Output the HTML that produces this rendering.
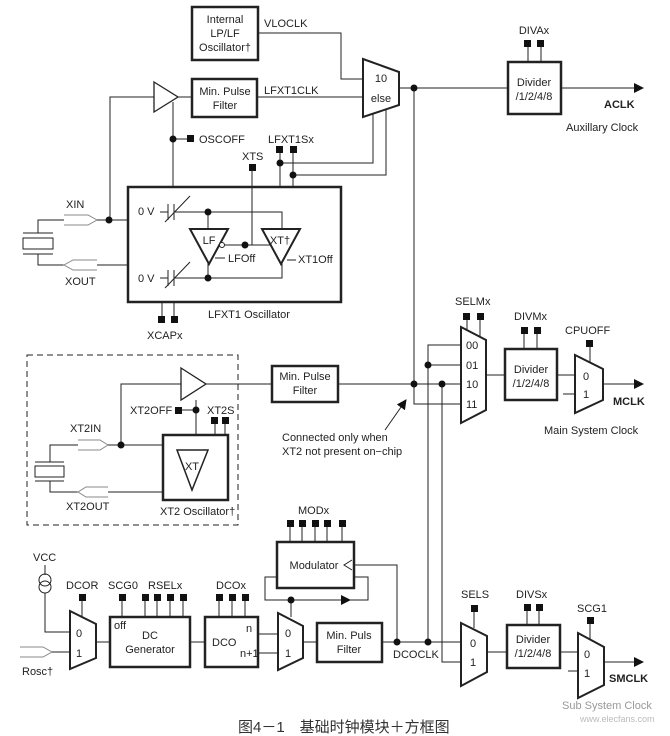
<!DOCTYPE html>
<html><head><meta charset="utf-8"><style>
html,body{margin:0;padding:0;background:#fff;}
svg{display:block;}
text{font-family:"Liberation Sans",Arial,sans-serif;font-size:11px;fill:#222;}
.b{font-weight:bold;}
</style></head><body>
<svg width="670" height="736" viewBox="0 0 670 736" xmlns="http://www.w3.org/2000/svg">
<defs>
<marker id="ar" markerWidth="10" markerHeight="10" refX="9" refY="5" orient="auto" markerUnits="userSpaceOnUse"><path d="M0,0 L10,5 L0,10 z" fill="#111"/></marker>
</defs>
<g stroke="#222" stroke-width="1" fill="none">
<rect x="192" y="7" width="66" height="53" stroke-width="2.5"/>
<polyline points="258,33 341,33 341,79 363,79"/>
<polygon points="363,59 399,72 399,105 363,117" stroke-width="2" fill="#fff"/>
<polygon points="154,82 178,97 154,112" stroke-width="1.3"/>
<polyline points="154,97 110,97 110,220"/>
<rect x="192" y="79" width="65" height="38" stroke-width="2.5"/>
<line x1="178" y1="97" x2="192" y2="97"/>
<line x1="257" y1="97" x2="363" y2="97"/>
<line x1="173" y1="102" x2="173" y2="187"/>
<line x1="173" y1="139" x2="190" y2="139"/>
<polyline points="280,150 280,187"/>
<polyline points="280,163 373,163 373,114"/>
<polyline points="293,150 293,187"/>
<polyline points="293,175 386,175 386,109"/>
<line x1="252" y1="167" x2="252" y2="245"/>
<rect x="128" y="187" width="213" height="115" stroke-width="2.5"/>
<line x1="162" y1="302" x2="162" y2="318"/><line x1="174" y1="302" x2="174" y2="318"/>
<line x1="160" y1="212" x2="168" y2="212"/><line x1="168" y1="204" x2="168" y2="220"/><line x1="174" y1="204" x2="174" y2="220"/>
<line x1="165" y1="222" x2="190" y2="196"/>
<polyline points="174,212 282,212 282,229"/>
<line x1="208" y1="212" x2="208" y2="229"/>
<line x1="160" y1="278" x2="168" y2="278"/><line x1="168" y1="270" x2="168" y2="286"/><line x1="174" y1="270" x2="174" y2="286"/>
<line x1="165" y1="288" x2="190" y2="262"/>
<polyline points="174,278 282,278 282,263"/>
<line x1="208" y1="278" x2="208" y2="263"/>
<polygon points="190,229 228,229 209,264" stroke-width="2"/>
<polygon points="262,229 300,229 281,264" stroke-width="2"/>
<circle cx="222" cy="245" r="2.5" fill="#fff"/>
<line x1="225" y1="245" x2="270" y2="245"/>
<line x1="215" y1="258" x2="225" y2="258"/>
<line x1="287" y1="260" x2="296" y2="260"/>
<polyline points="64,215 88,215 97,220 88,225 64,225 z" stroke="#888"/>
<polyline points="38,233 38,220 64,220"/>
<line x1="97" y1="220" x2="128" y2="220"/>
<rect x="23" y="238" width="30" height="11"/>
<line x1="23" y1="233" x2="53" y2="233"/><line x1="23" y1="254" x2="53" y2="254"/>
<polyline points="38,254 38,265 64,265"/>
<polyline points="97,260 73,260 64,265 73,270 97,270 z" stroke="#888"/>
<line x1="97" y1="265" x2="128" y2="265"/>
<line x1="399" y1="88" x2="508" y2="88"/>
<rect x="508" y="62" width="53" height="52" stroke-width="2.5"/>
<line x1="528" y1="43" x2="528" y2="62"/><line x1="541" y1="43" x2="541" y2="62"/>
<line x1="561" y1="88" x2="643" y2="88" marker-end="url(#ar)"/>
<polyline points="414,88 414,404 461,404"/>
<polyline points="461,345 428,345 428,642"/>
<line x1="428" y1="365" x2="461" y2="365"/>
<polyline points="442,384 442,662 461,662"/>
<rect x="27" y="355" width="211" height="170" stroke-dasharray="6,4"/>
<polygon points="181,368 206,384 181,400" stroke-width="1.3"/>
<polyline points="181,384 121,384 121,445"/>
<line x1="206" y1="384" x2="272" y2="384"/>
<rect x="272" y="366" width="66" height="36" stroke-width="2.5"/>
<line x1="338" y1="384" x2="461" y2="384"/>
<line x1="196" y1="400" x2="196" y2="435"/>
<line x1="178" y1="410" x2="196" y2="410"/>
<line x1="215" y1="420" x2="215" y2="435"/><line x1="225" y1="420" x2="225" y2="435"/>
<rect x="163" y="435" width="65" height="65" stroke-width="2.5"/>
<polygon points="177,450 208,450 192,490" stroke-width="1.5"/>
<polyline points="78,440 100,440 108,445 100,450 78,450 z" stroke="#888"/>
<polyline points="50,462 50,445 78,445"/>
<line x1="108" y1="445" x2="163" y2="445"/>
<rect x="35" y="466" width="29" height="11"/>
<line x1="35" y1="462" x2="64" y2="462"/><line x1="35" y1="481" x2="64" y2="481"/>
<polyline points="50,481 50,492 78,492"/>
<polyline points="108,487 86,487 78,492 86,497 108,497 z" stroke="#888"/>
<line x1="108" y1="492" x2="163" y2="492"/>
<line x1="385" y1="430" x2="406" y2="400" marker-end="url(#ar)"/>
<polygon points="461,327 486,340 486,410 461,423" stroke-width="2" fill="#fff"/>
<line x1="467" y1="318" x2="467" y2="330"/><line x1="480" y1="318" x2="480" y2="337"/>
<line x1="486" y1="375" x2="505" y2="375"/>
<rect x="505" y="349" width="52" height="51" stroke-width="2.5"/>
<line x1="524" y1="330" x2="524" y2="349"/><line x1="537" y1="330" x2="537" y2="349"/>
<line x1="557" y1="375" x2="575" y2="375"/>
<line x1="563" y1="394" x2="575" y2="394"/>
<polygon points="575,355 603,369 603,400 575,413" stroke-width="2"/>
<line x1="590" y1="342" x2="590" y2="362"/>
<line x1="603" y1="384" x2="643" y2="384" marker-end="url(#ar)"/>
<line x1="290" y1="524" x2="290" y2="542"/><line x1="302" y1="524" x2="302" y2="542"/><line x1="315" y1="524" x2="315" y2="542"/><line x1="327" y1="524" x2="327" y2="542"/><line x1="342" y1="524" x2="342" y2="542"/>
<rect x="277" y="542" width="77" height="46" stroke-width="2.5"/>
<polyline points="352,560 344,565 352,570"/>
<polyline points="354,565 397,565 397,642"/>
<polyline points="277,577 265,577 265,600 350,600" marker-end="url(#ar)"/>
<polyline points="350,600 368,600 368,577 354,577"/>
<line x1="291" y1="600" x2="291" y2="617"/>
<line x1="45" y1="565" x2="45" y2="575"/>
<circle cx="45" cy="580" r="6"/><circle cx="45" cy="587" r="6"/>
<polyline points="45,593 45,632 70,632"/>
<line x1="82" y1="597" x2="82" y2="617"/>
<polygon points="70,611 96,624 96,658 70,669" stroke-width="2"/>
<polyline points="20,647 43,647 52,652 43,657 20,657 z" stroke="#888"/>
<line x1="52" y1="652" x2="70" y2="652"/>
<line x1="96" y1="642" x2="110" y2="642"/>
<rect x="110" y="617" width="80" height="50" stroke-width="2.5"/>
<line x1="122" y1="597" x2="122" y2="617"/>
<line x1="145" y1="597" x2="145" y2="617"/><line x1="157" y1="597" x2="157" y2="617"/><line x1="170" y1="597" x2="170" y2="617"/><line x1="183" y1="597" x2="183" y2="617"/>
<line x1="190" y1="642" x2="205" y2="642"/>
<rect x="205" y="617" width="53" height="50" stroke-width="2.5"/>
<line x1="219" y1="597" x2="219" y2="617"/><line x1="232" y1="597" x2="232" y2="617"/><line x1="245" y1="597" x2="245" y2="617"/>
<line x1="258" y1="634" x2="278" y2="634"/><line x1="258" y1="653" x2="278" y2="653"/>
<polygon points="278,613 303,626 303,658 278,670" stroke-width="2"/>
<line x1="303" y1="642" x2="317" y2="642"/>
<rect x="317" y="623" width="65" height="39" stroke-width="2.5"/>
<line x1="382" y1="642" x2="461" y2="642"/>
<polygon points="461,623 487,636 487,672 461,686" stroke-width="2"/>
<line x1="474" y1="608" x2="474" y2="628"/>
<line x1="487" y1="652" x2="507" y2="652"/>
<rect x="507" y="625" width="53" height="43" stroke-width="2.5"/>
<line x1="527" y1="607" x2="527" y2="625"/><line x1="539" y1="607" x2="539" y2="625"/>
<line x1="560" y1="652" x2="578" y2="652"/>
<line x1="568" y1="671" x2="578" y2="671"/>
<polygon points="578,633 604,647 604,685 578,698" stroke-width="2"/>
<line x1="590" y1="620" x2="590" y2="640"/>
<line x1="604" y1="662" x2="643" y2="662" marker-end="url(#ar)"/>
</g>
<g fill="#111">
<circle cx="414" cy="88" r="3.5"/><circle cx="173" cy="139" r="3.5"/><circle cx="280" cy="163" r="3.5"/><circle cx="293" cy="175" r="3.5"/>
<circle cx="109" cy="220" r="3.5"/><circle cx="208" cy="212" r="3.5"/><circle cx="208" cy="278" r="3.5"/><circle cx="245" cy="245" r="3.5"/>
<circle cx="414" cy="384" r="3.5"/><circle cx="428" cy="365" r="3.5"/><circle cx="442" cy="384" r="3.5"/>
<circle cx="121" cy="445" r="3.5"/><circle cx="196" cy="410" r="3.5"/>
<circle cx="291" cy="600" r="3.5"/><circle cx="397" cy="642" r="3.5"/><circle cx="428" cy="642" r="3.5"/>
<rect x="187" y="135" width="7" height="7"/>
<rect x="276" y="146" width="7" height="7"/><rect x="290" y="146" width="7" height="7"/>
<rect x="249" y="164" width="7" height="7"/>
<rect x="158" y="316" width="7" height="7"/><rect x="171" y="316" width="7" height="7"/>
<rect x="524" y="40" width="7" height="7"/><rect x="537" y="40" width="7" height="7"/>
<rect x="463" y="313" width="7" height="7"/><rect x="477" y="313" width="7" height="7"/>
<rect x="521" y="327" width="7" height="7"/><rect x="534" y="327" width="7" height="7"/>
<rect x="586" y="340" width="7" height="7"/>
<rect x="175" y="407" width="7" height="7"/><rect x="211" y="417" width="7" height="7"/><rect x="222" y="417" width="7" height="7"/>
<rect x="287" y="520" width="7" height="7"/><rect x="299" y="520" width="7" height="7"/><rect x="312" y="520" width="7" height="7"/><rect x="324" y="520" width="7" height="7"/><rect x="339" y="520" width="7" height="7"/>
<rect x="79" y="594" width="7" height="7"/><rect x="119" y="594" width="7" height="7"/>
<rect x="142" y="594" width="7" height="7"/><rect x="154" y="594" width="7" height="7"/><rect x="167" y="594" width="7" height="7"/><rect x="180" y="594" width="7" height="7"/>
<rect x="216" y="594" width="7" height="7"/><rect x="229" y="594" width="7" height="7"/><rect x="242" y="594" width="7" height="7"/>
<rect x="471" y="605" width="7" height="7"/><rect x="524" y="604" width="7" height="7"/><rect x="536" y="604" width="7" height="7"/><rect x="587" y="617" width="7" height="7"/>
</g>
<g text-anchor="middle">
<text x="225" y="23">Internal</text><text x="225" y="37">LP/LF</text><text x="225" y="51">Oscillator†</text>
<text x="381" y="82">10</text><text x="381" y="102">else</text>
<text x="225" y="95">Min. Pulse</text><text x="225" y="109">Filter</text>
<text x="534" y="86">Divider</text><text x="534" y="100">/1/2/4/8</text>
<text x="534" y="34">DIVAx</text>
<text x="209" y="244">LF</text><text x="280" y="244">XT†</text>
<text x="305" y="380">Min. Pulse</text><text x="305" y="394">Filter</text>
<text x="192" y="470">XT</text>
<text x="531" y="373">Divider</text><text x="531" y="387">/1/2/4/8</text>
<text x="314" y="569">Modulator</text>
<text x="150" y="639">DC</text><text x="150" y="653">Generator</text>
<text x="349" y="639">Min. Puls</text><text x="349" y="653">Filter</text>
<text x="533" y="643">Divider</text><text x="533" y="657">/1/2/4/8</text>
</g>
<text x="264" y="27">VLOCLK</text>
<text x="264" y="94">LFXT1CLK</text>
<text x="199" y="143">OSCOFF</text>
<text x="268" y="143">LFXT1Sx</text>
<text x="242" y="160">XTS</text>
<text x="66" y="208">XIN</text>
<text x="65" y="285">XOUT</text>
<text x="138" y="215">0 V</text><text x="138" y="282">0 V</text>
<text x="228" y="262">LFOff</text><text x="298" y="263">XT1Off</text>
<text x="208" y="318">LFXT1 Oscillator</text>
<text x="147" y="339">XCAPx</text>
<text x="604" y="108" class="b">ACLK</text>
<text x="566" y="131">Auxillary Clock</text>
<text x="455" y="305">SELMx</text>
<text x="466" y="349">00</text><text x="466" y="369">01</text><text x="466" y="388">10</text><text x="466" y="408">11</text>
<text x="514" y="320">DIVMx</text>
<text x="565" y="334">CPUOFF</text>
<text x="583" y="380">0</text><text x="583" y="398">1</text>
<text x="613" y="405" class="b">MCLK</text>
<text x="544" y="434">Main System Clock</text>
<text x="282" y="441">Connected only when</text>
<text x="282" y="455">XT2 not present on−chip</text>
<text x="130" y="414">XT2OFF</text>
<text x="207" y="414">XT2S</text>
<text x="70" y="432">XT2IN</text>
<text x="66" y="510">XT2OUT</text>
<text x="160" y="515">XT2 Oscillator†</text>
<text x="298" y="514">MODx</text>
<text x="33" y="561">VCC</text>
<text x="66" y="589">DCOR</text><text x="108" y="589">SCG0</text><text x="148" y="589">RSELx</text><text x="216" y="589">DCOx</text>
<text x="76" y="637">0</text><text x="76" y="657">1</text>
<text x="22" y="675">Rosc†</text>
<text x="114" y="629">off</text>
<text x="212" y="646">DCO</text>
<text x="246" y="632">n</text><text x="240" y="657">n+1</text>
<text x="285" y="637">0</text><text x="285" y="657">1</text>
<text x="393" y="658">DCOCLK</text>
<text x="461" y="598">SELS</text>
<text x="470" y="647">0</text><text x="470" y="666">1</text>
<text x="516" y="598">DIVSx</text>
<text x="577" y="612">SCG1</text>
<text x="584" y="658">0</text><text x="584" y="677">1</text>
<text x="609" y="682" class="b">SMCLK</text>
<text x="562" y="709" style="fill:#999">Sub System Clock</text>
<text x="580" y="722" style="fill:#bbb;font-size:9px">www.elecfans.com</text>
<text x="238" y="732" style="font-size:15px;font-family:'Liberation Sans','Noto Sans CJK SC',sans-serif;fill:#333">图4－1　基础时钟模块＋方框图</text>
</svg>
</body></html>
